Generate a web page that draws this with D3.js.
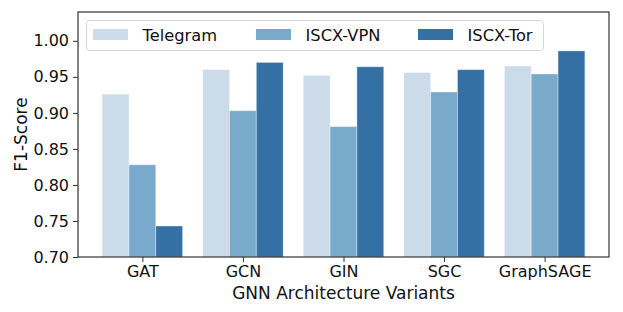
<!DOCTYPE html>
<html>
<head>
<script src="https://d3js.org/d3.v7.min.js"></script>
<style>
  body { margin: 0; background: #fff; }
  text { font-family: "DejaVu Sans", sans-serif; fill: #111; }
</style>
</head>
<body>
<svg id="chart" width="623" height="312"></svg>
<script>
// data
var models = ["GAT", "GCN", "GIN", "SGC", "GraphSAGE"];
var datasets = ["Telegram", "ISCX-VPN", "ISCX-Tor"];
var telegram = [0.926, 0.960, 0.952, 0.956, 0.965];
var iscxVpn  = [0.828, 0.903, 0.881, 0.929, 0.954];
var iscxTor  = [0.743, 0.970, 0.964, 0.960, 0.986];
var yTicks = [0.70, 0.75, 0.80, 0.85, 0.90, 0.95, 1.00];
var colors = ["#cbdbea", "#7aaacb", "#3470a4"];

var series = [telegram, iscxVpn, iscxTor];

var svg = d3.select("#chart"),
    axLeft = 78, axRight = 609, axTop = 12, axBottom = 257;

// categorical positions like matplotlib: index 0..4, bars span +-0.4, 5% margins
var x = d3.scaleLinear().domain([-0.64, 4.64]).range([axLeft, axRight]);
var y = d3.scaleLinear().domain([0.70, 1.04]).range([axBottom, axTop]);
var barW = 0.8 / 3;

var g = svg.append("g");

series.forEach(function(vals, s) {
  g.selectAll(".bar" + s)
    .data(vals)
    .enter()
    .append("rect")
    .attr("class", "bar" + s)
    .attr("x", function(d, i) { return x(i - 0.4 + s * barW); })
    .attr("width", function(d, i) { return x(i - 0.4 + (s + 1) * barW) - x(i - 0.4 + s * barW); })
    .attr("y", function(d) { return y(d); })
    .attr("height", function(d) { return y(0.70) - y(d); })
    .attr("fill", colors[s])
    .attr("stroke", "rgba(255,255,255,0.35)")
    .attr("stroke-width", 1);
});

// axes
var xAxis = d3.axisBottom(x)
  .tickValues(d3.range(models.length))
  .tickFormat(function(i) { return models[i]; })
  .tickSize(5).tickPadding(4);
var yAxis = d3.axisLeft(y)
  .tickValues(yTicks)
  .tickFormat(d3.format(".2f"))
  .tickSize(5).tickPadding(4);

var gx = svg.append("g").attr("transform", "translate(0," + axBottom + ")").call(xAxis);
var gy = svg.append("g").attr("transform", "translate(" + axLeft + ",0)").call(yAxis);
[gx, gy].forEach(function(a) {
  a.select(".domain").remove();
  a.selectAll(".tick line").attr("stroke", "#333").attr("stroke-width", 1);
  a.selectAll(".tick text").attr("font-size", 16).attr("fill", "#111")
    .attr("font-family", "DejaVu Sans, sans-serif");
});

// frame
svg.append("rect")
  .attr("x", axLeft).attr("y", axTop)
  .attr("width", axRight - axLeft).attr("height", axBottom - axTop)
  .attr("fill", "none").attr("stroke", "#333").attr("stroke-width", 1.2);

// axis labels
svg.append("text")
  .attr("x", (axLeft + axRight) / 2).attr("y", 299)
  .attr("text-anchor", "middle").attr("font-size", 17)
  .text("GNN Architecture Variants");
svg.append("text")
  .attr("transform", "translate(27," + (axTop + axBottom) / 2 + ") rotate(-90)")
  .attr("text-anchor", "middle").attr("font-size", 17)
  .text("F1-Score");

// legend
var lg = svg.append("g");
lg.append("rect")
  .attr("x", 86.5).attr("y", 20.5).attr("width", 457).attr("height", 30)
  .attr("rx", 3)
  .attr("fill", "rgba(255,255,255,0.8)").attr("stroke", "#d5d5d5");
var legX = [93, 256, 418];
datasets.forEach(function(name, i) {
  lg.append("rect")
    .attr("x", legX[i]).attr("y", 29).attr("width", 35).attr("height", 11)
    .attr("fill", colors[i]);
  lg.append("text")
    .attr("x", legX[i] + 49.5).attr("y", 41)
    .attr("font-size", 16.3)
    .text(name);
});
</script>
</body>
</html>
